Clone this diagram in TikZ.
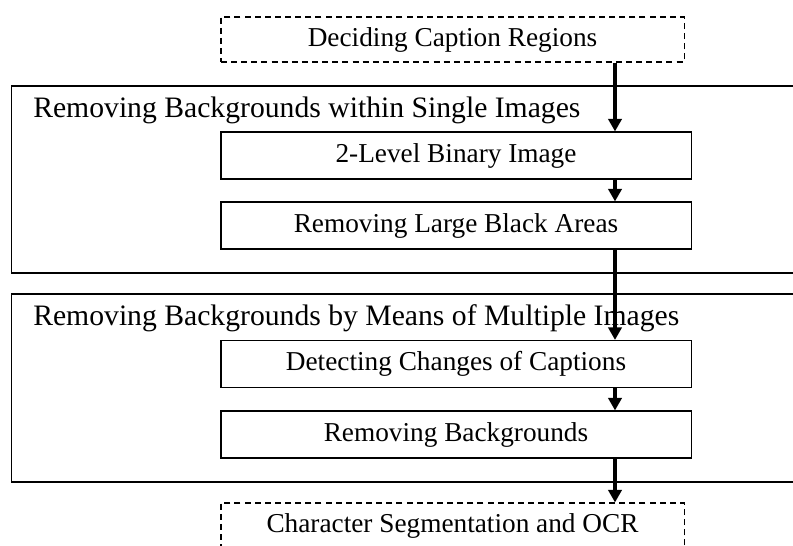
\documentclass[tikz,border=0pt]{standalone}
\usepackage{fontspec}
\setmainfont{Liberation Serif}
\usetikzlibrary{positioning,arrows.meta}

\begin{document}
\begin{tikzpicture}[x=0.025cm,y=-0.025cm,
    stepbox/.style={draw,line width=0.8pt,minimum width=11.75cm,minimum height=1.175cm,inner sep=0pt,font=\fontsize{19.4}{23}\selectfont},
    endbox/.style={stepbox,dash pattern=on 4.3pt off 2.9pt,minimum width=11.575cm,minimum height=1.125cm},
    stagebox/.style={draw,line width=0.8pt,minimum width=19.7cm,inner sep=0pt},
    stagetitle/.style={anchor=base west,inner sep=0pt,font=\fontsize{21.1}{25}\selectfont},
    flow/.style={-{Triangle[length=9pt,width=9.5pt]},line width=2.8pt}]
    \useasboundingbox (0,0) rectangle (793,545);
    \clip (0,0) rectangle (793,545);
    \coordinate (col) at (615,0);

    % two stages
    \node[stagebox,minimum height=4.675cm] (single) at (406,179.5) {};
    \node[stagetitle] (singletitle) at (33,117) {Removing Backgrounds within Single Images};
    \node[stagebox,minimum height=4.7cm] (multi) at (406,388) {};
    \node[stagetitle] (multititle) at (33,325) {Removing Backgrounds by Means of Multiple Images};

    % steps
    \node[endbox] (decide) at (452.5,39.5) {Deciding Caption Regions};
    \node[stepbox] (binary) at (456,155.5) {2-Level Binary Image};
    \node[stepbox] (black) at (456,225.5) {Removing Large Black Areas};
    \node[stepbox] (changes) at (456,364) {Detecting Changes of Captions};
    \node[stepbox] (removebg) at (456,434.5) {Removing Backgrounds};
    \node[endbox] (ocr) at (452.5,525.5) {Character Segmentation and OCR};

    \draw[flow] (decide.south -| col) -- (binary.north -| col);
    \draw[flow] (binary.south -| col) -- (black.north -| col);
    \draw[flow] (black.south -| col) -- (changes.north -| col);
    \draw[flow] (changes.south -| col) -- (removebg.north -| col);
    \draw[flow] (removebg.south -| col) -- (ocr.north -| col);
\end{tikzpicture}
\end{document}
